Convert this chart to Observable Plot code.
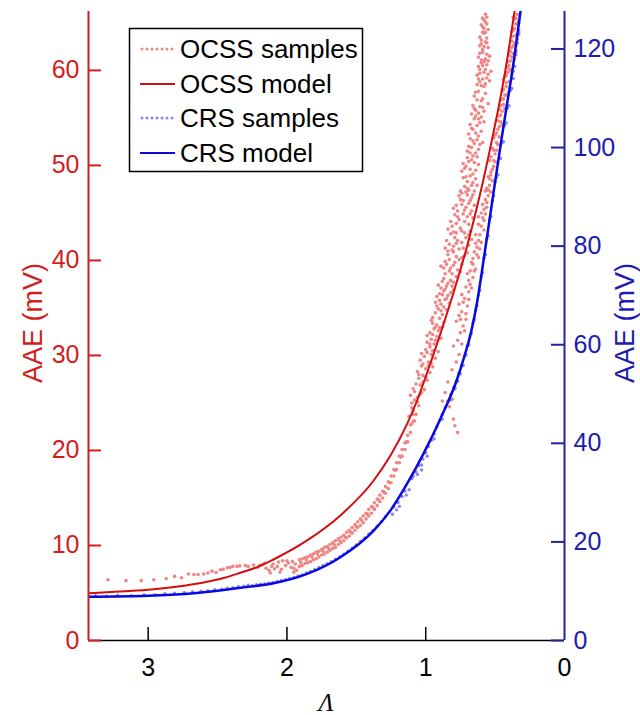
<!DOCTYPE html>
<html>
<head>
<meta charset="utf-8">
<script src="https://cdn.jsdelivr.net/npm/d3@7"></script>
<script src="https://cdn.jsdelivr.net/npm/@observablehq/plot@0.6"></script>
<style>
  body { margin: 0; background: #fff; }
  #chart { width: 640px; height: 715px; }
</style>
</head>
<body>
<div id="chart"></div>
<script>
// OCSS samples: [Λ, AAE (mV)] on the left axis
const ocssSamples = [
  // sparse tail at large Λ
  [3.29,6.4],[3.16,6.3],[3.05,6.3],[2.96,6.4],[2.87,6.5],[2.81,6.75],[2.76,6.6],[2.71,7.0],[2.67,6.95],[2.64,6.95],
  [2.60,7.0],[2.57,7.1],[2.54,7.3],[2.51,7.15],[2.48,7.45],[2.46,7.5],[2.43,7.65],[2.41,7.7],[2.39,7.8],[2.36,7.8],
  [2.34,7.85],[2.30,7.9],[2.28,7.8],[2.24,7.95],
  // clump near Λ = 2
  [2.21,7.7],[2.20,7.9],[2.18,8.0],[2.16,8.15],[2.15,7.6],[2.13,7.4],[2.12,7.1],[2.11,7.8],[2.10,8.05],[2.09,7.55],
  [2.07,7.8],[2.06,8.25],[2.05,7.2],[2.04,7.5],[2.03,8.4],[2.01,7.9],[2.00,8.4],[1.99,8.15],[1.97,7.7],[1.96,8.3],
  [1.95,7.6],[1.94,8.05],[1.93,7.4],[1.95,7.2],
  // narrow band below the model
  [1.91,7.8],[1.91,8.5],[1.89,8.6],[1.89,7.9],[1.87,8.7],[1.87,8.1],[1.85,8.8],[1.85,8.2],[1.83,8.3],[1.83,9.0],
  [1.81,8.5],[1.81,9.1],[1.79,9.3],[1.79,8.6],[1.77,9.4],[1.77,8.8],[1.75,9.6],[1.75,9.0],[1.73,9.1],[1.73,9.8],
  [1.71,9.9],[1.71,9.3],[1.69,9.5],[1.69,10.1],[1.67,10.3],[1.67,9.7],[1.65,10.5],[1.65,9.8],[1.63,10.1],[1.63,10.7],
  [1.61,10.9],[1.61,10.3],[1.59,11.1],[1.59,10.5],[1.57,10.8],[1.57,11.4],[1.55,11.6],[1.55,11.0],[1.53,11.3],[1.53,11.9],
  [1.51,12.2],[1.51,11.6],[1.49,11.9],[1.49,12.5],[1.47,12.8],[1.47,12.1],[1.45,13.1],[1.45,12.4],[1.43,12.8],[1.43,13.4],
  [1.41,13.8],[1.41,13.1],[1.39,14.1],[1.39,13.4],[1.37,13.8],[1.37,14.5],[1.35,14.9],[1.35,14.2],[1.33,14.6],[1.33,15.3],
  [1.31,15.7],[1.31,15.0],[1.29,15.5],[1.29,16.2],[1.27,16.7],[1.27,16.0],[1.25,16.6],[1.25,17.3],[1.23,18.0],[1.23,17.3],
  [1.21,18.7],[1.21,18.0],[1.19,19.4],[1.19,18.7],[1.17,19.4],[1.17,20.1],[1.15,20.8],[1.15,20.1],[1.13,20.9],[1.13,21.6],
  [1.11,22.7],[1.11,21.9],[1.09,23.1],[1.09,23.8],
  [1.90,8.2],[1.86,8.5],[1.82,8.8],[1.78,9.1],[1.74,9.4],[1.70,9.7],[1.66,10.1],[1.62,10.5],[1.58,10.9],[1.54,11.4],
  [1.50,12.0],[1.46,12.6],[1.42,13.3],[1.38,14.0],[1.34,14.8],[1.30,15.6],[1.26,16.6],[1.22,17.9],[1.18,19.3],[1.14,20.9],[1.10,22.8],
  // main cloud around and above the model
  [1.12,23.6],[1.09,24.2],[1.07,23.8],[1.10,25.0],[1.05,24.7],[1.08,25.3],
  [1.11,25.8],[1.06,25.6],[1.03,26.1],[1.09,26.5],[1.04,26.9],[1.01,26.4],[1.07,27.0],
  [1.05,27.6],[1.02,27.9],[0.99,27.4],[1.06,28.3],[1.00,28.6],[0.97,28.2],[1.03,28.9],[0.95,28.8],
  [1.04,29.5],[1.01,29.9],[0.98,29.3],[0.96,30.1],[0.93,29.7],[1.00,30.6],[0.97,30.9],[0.91,30.4],
  [0.99,31.4],[0.96,31.7],[0.94,31.2],[0.92,32.0],[0.97,32.4],[0.89,31.8],[0.94,32.8],[0.91,32.6],
  [0.95,33.4],[0.92,33.2],[0.90,33.9],[0.87,33.5],[0.93,34.5],[0.88,34.3],[0.85,34.8],[0.91,34.9],
  [0.93,35.6],[0.89,35.4],[0.86,35.9],[0.83,35.5],[0.90,36.5],[0.87,36.8],[0.84,36.3],[0.80,36.9],
  [0.91,37.4],[0.88,37.8],[0.85,37.3],[0.82,37.9],[0.78,38.3],[0.86,38.6],[0.83,38.9],[0.75,38.8],
  [0.89,39.4],[0.85,39.6],[0.82,39.2],[0.79,39.8],[0.76,40.1],[0.72,40.5],[0.84,40.6],[0.80,40.9],[0.70,40.8],
  [0.86,41.3],[0.83,41.7],[0.80,41.5],[0.77,42.1],[0.74,41.9],[0.71,42.4],[0.67,42.2],[0.82,42.8],[0.78,42.9],[0.64,42.7],
  [0.84,43.3],[0.81,43.6],[0.78,43.9],[0.75,43.4],[0.72,44.1],[0.69,43.8],[0.66,44.5],[0.79,44.8],[0.73,44.9],
  [0.80,45.5],[0.77,45.2],[0.74,45.9],[0.71,45.6],[0.68,46.3],[0.65,45.8],[0.76,46.8],[0.70,46.9],
  [0.75,47.3],[0.72,47.8],[0.69,47.4],[0.66,48.2],[0.63,47.9],[0.73,48.7],[0.68,48.9],
  [0.74,49.4],[0.71,49.9],[0.68,49.6],[0.65,50.3],[0.62,50.1],[0.70,50.8],[0.66,51.0],
  [0.70,51.5],[0.67,51.9],[0.64,51.3],[0.61,52.2],[0.68,52.8],[0.63,52.7],[0.59,52.4],
  [0.69,53.3],[0.66,53.8],[0.63,54.2],[0.60,53.6],[0.58,54.6],[0.65,54.9],
  [0.67,55.4],[0.64,55.8],[0.61,56.2],[0.58,55.7],[0.55,56.5],[0.63,56.9],
  [0.65,57.3],[0.62,57.8],[0.60,58.4],[0.57,57.6],[0.54,58.9],[0.59,59.1],
  [0.63,59.5],[0.61,60.1],[0.58,59.8],[0.56,60.6],[0.53,59.9],[0.60,60.8],
  [0.62,61.4],[0.59,61.9],[0.57,61.2],[0.55,62.4],[0.60,62.8],[0.56,62.9],
  [0.61,63.5],[0.58,63.9],[0.56,63.4],[0.59,64.6],[0.57,65.1],[0.57,65.9],[0.55,64.3],
  [1.10,24.5],[1.06,25.1],[1.08,26.2],[1.02,27.2],[1.05,28.0],[0.98,28.9],[1.02,29.1],[0.99,30.3],[0.95,30.5],[0.97,31.2],
  [0.93,31.6],[0.95,32.2],[0.90,32.9],[0.96,33.7],[0.89,34.7],[0.92,35.2],[0.87,35.1],[0.85,36.0],[0.88,36.4],[0.82,36.6],
  [0.89,37.1],[0.84,37.6],[0.80,37.7],[0.87,38.1],[0.77,39.0],[0.81,38.6],[0.86,39.9],[0.83,40.1],[0.78,40.4],[0.74,40.3],
  [0.81,41.1],[0.76,41.2],[0.69,41.6],[0.85,42.1],[0.79,42.4],[0.72,42.9],[0.68,43.1],[0.82,44.1],[0.76,44.3],[0.70,44.6],
  [0.67,45.2],[0.78,45.8],[0.73,46.3],[0.66,46.9],[0.74,47.1],[0.70,47.6],[0.67,47.9],[0.64,48.6],[0.71,48.8],[0.72,49.7],
  [0.69,50.4],[0.63,50.9],[0.67,50.6],[0.65,52.3],[0.69,52.0],[0.62,53.1],[0.67,53.9],[0.61,54.5],[0.64,55.2],[0.66,56.3],
  [0.60,56.8],[0.62,55.5],[0.64,57.7],[0.58,58.3],[0.61,58.8],[0.56,59.2],[0.62,60.4],[0.59,60.5],[0.55,61.0],[0.61,61.8],
  [0.58,62.5],[0.60,63.2],[0.57,63.0],[0.59,64.0],[0.58,65.3],[0.56,64.9],[0.60,64.8],
  [0.59,57.0],[0.61,59.7],[0.57,60.1],[0.60,61.1],[0.56,61.7],[0.58,61.0],[0.59,62.2],[0.61,62.6],[0.57,64.0],[0.58,64.4],
  [0.56,65.6],[0.59,65.5],
  [1.08,23.1],[1.04,25.9],[1.00,27.7],[1.03,30.2],[0.96,29.2],[0.99,32.1],[0.93,33.0],[0.88,33.0],[0.95,34.0],[0.90,35.8],
  [0.86,37.0],[0.92,36.2],[0.81,37.3],[0.87,39.2],[0.80,39.5],[0.74,39.6],[0.84,41.0],[0.78,41.8],[0.73,41.3],[0.69,42.7],
  [0.80,43.0],[0.74,43.1],[0.77,44.6],[0.68,44.9],[0.72,45.3],[0.75,46.4],[0.69,46.0],[0.67,46.6],[0.71,47.2],[0.65,47.3],
  [0.70,48.3],[0.66,49.1],[0.73,50.2],[0.64,49.5],[0.68,51.3],[0.62,51.7],[0.66,52.6],[0.64,53.4],[0.68,54.3],[0.62,54.9],
  [0.60,55.1],[0.65,56.0],[0.59,56.1],[0.63,58.5],[0.57,58.6],[0.55,59.6],[0.62,59.1],[0.54,61.5],[0.58,60.9],
  // outlying group between the two models
  [0.79,22.6],[0.77,21.9],[0.80,23.3],[0.83,24.6],[0.81,25.4],[0.86,26.1],[0.84,27.2],[0.79,26.6],[0.88,25.2],
  [0.81,28.5],[0.78,29.3],[0.76,30.1],[0.80,31.0],[0.77,31.6],
  [0.75,32.4],[0.73,33.1],[0.71,33.8],[0.74,34.6],[0.70,35.2],[0.72,36.0],[0.69,36.7],[0.76,35.4],
  [0.68,37.5],[0.66,38.2],[0.70,38.6],[0.64,39.1],[0.67,39.8],[0.62,40.3],[0.65,40.9],
  [0.63,41.4],[0.60,41.9],[0.61,42.7],[0.58,43.2],[0.62,43.8],[0.59,44.5],[0.57,44.9],
  [0.58,45.4],[0.56,46.1],[0.55,46.8],[0.57,47.3],[0.54,47.9],[0.52,48.4],[0.55,48.8],
  [0.53,49.3],[0.51,49.9],[0.54,50.5],[0.50,51.2],[0.52,51.8],[0.49,52.4],[0.51,52.9],
  [0.49,53.4],[0.47,54.1],[0.48,54.7],[0.46,55.3],[0.47,55.9],[0.44,56.4],[0.46,56.9],
  [0.43,57.4],[0.44,58.0],[0.42,58.7],[0.43,59.3],[0.41,59.8],[0.40,60.5],[0.41,60.9],
  [0.38,61.4],[0.39,62.0],[0.37,62.6],[0.38,63.1],[0.35,63.7],[0.37,64.2],[0.34,64.8],[0.36,65.4],[0.34,65.9],[0.35,61.9],[0.33,64.0],
  [0.74,31.2],[0.72,32.6],[0.75,33.8],[0.71,34.4],[0.73,35.6],[0.69,35.9],[0.67,37.1],[0.69,37.9],[0.65,38.9],[0.66,39.6],
  [0.63,40.6],[0.64,41.8],[0.61,41.2],[0.60,43.6],[0.62,44.6],[0.58,44.2],[0.59,45.9],[0.57,46.4],[0.56,47.6],[0.53,47.2],
  [0.54,48.6],[0.52,49.6],[0.53,50.9],[0.50,50.4],[0.51,51.6],[0.48,52.2],[0.50,53.2],[0.48,53.8],[0.46,54.6],[0.47,55.2],
  [0.45,55.7],[0.46,56.3],[0.44,57.0],[0.45,57.8],[0.42,58.3],[0.44,59.0],[0.42,59.5],[0.40,59.9],[0.41,60.3],[0.39,61.0],
  [0.40,61.6],[0.37,61.8],[0.38,62.4],[0.36,62.9],[0.37,63.6],[0.36,64.4],[0.35,64.9],[0.37,65.6],[0.35,65.5],[0.38,64.1],
  [0.78,33.6],[0.76,34.2],[0.74,36.4],[0.71,37.2],[0.68,38.9],[0.66,40.2],[0.62,42.1],[0.60,45.0],[0.56,45.6],[0.55,47.4],
  [0.53,49.0],[0.51,50.5],[0.49,51.6],[0.47,53.0],[0.45,54.3],[0.43,56.0],[0.42,57.4],[0.40,58.8],[0.39,60.1],[0.36,61.2],
  [0.35,62.6],[0.34,63.3],[0.33,65.2]
];

// OCSS model curve: [Λ, AAE (mV)] on the left axis
const ocssModel = [
  [3.43,4.98],[3.2,5.15],[3.0,5.35],[2.8,5.65],[2.6,6.1],[2.45,6.6],[2.34,7.1],[2.2,7.8],[2.1,8.5],[1.855,10.53],
  [1.615,13.16],[1.375,16.84],[1.254,19.47],[1.134,22.8],[1.062,25.26],[0.98,28.6],[0.894,32.3],[0.8,36.6],[0.7,41.6],
  [0.6,47.5],[0.534,51.9],[0.438,59.0],[0.36,66.2],[0.34,68.2]
];

// CRS samples: [Λ, AAE (mV)] on the right axis
const crsSamples = [
  [3.38,9.1],[3.30,9.0],[3.22,9.2],[3.12,9.1],[3.03,9.3],[2.95,9.3],[2.88,9.5],[2.81,9.6],[2.74,9.7],[2.68,9.9],
  [2.62,10.0],[2.57,10.1],[2.52,10.3],[2.47,10.4],[2.43,10.6],[2.39,10.7],[2.35,10.9],[2.31,11.0],[2.28,11.2],[2.25,11.1],
  [2.22,11.3],[2.19,11.4],[2.16,11.5],[2.13,11.7],[2.10,11.8],[2.07,12.0],[2.04,12.2],[2.01,12.4],[1.98,12.6],[1.95,12.8],
  [1.92,13.1],[1.89,13.3],[1.86,13.7],[1.83,14.0],[1.80,14.4],[1.77,14.8],[1.74,15.2],[1.71,15.6],[1.68,16.0],[1.65,16.5],
  [1.62,17.0],[1.59,17.5],[1.56,18.1],[1.53,18.7],[1.50,19.4],[1.47,20.1],[1.44,20.8],[1.41,21.6],[1.38,22.3],[1.35,23.2],
  [1.32,24.1],[1.29,25.1],[1.26,26.1],[1.23,27.1],[1.21,26.5],[1.20,28.0],[1.17,29.2],[1.15,30.3],[1.12,30.6],[1.10,32.8],
  [1.09,33.3],[1.07,34.2],[1.05,35.5],[1.03,35.6],[1.02,36.8],[1.00,38.1],[0.98,39.4],[0.96,40.6],[0.94,41.9],[0.92,43.3],
  [0.90,44.6],[0.88,45.9],[0.86,47.2],[0.84,48.6],[0.82,49.9],[0.80,51.3],[0.78,52.6],[0.76,54.2],[0.74,55.9],[0.72,57.8],
  [0.70,59.8],[0.68,61.8],[0.66,64.4],[0.64,67.1],[0.62,70.1],[0.60,73.8],[0.58,77.6],[0.56,81.5],[0.54,85.4],[0.52,89.2],
  [0.50,93.0],[0.48,96.9],[0.46,100.6],[0.44,104.2],[0.42,107.8],[0.40,111.3],[0.38,114.8],[0.36,118.9],[0.34,123.0],[0.33,125.2],
  [1.24,25.6],[1.19,27.2],[1.14,29.5],[1.06,33.7],[1.03,34.6],[0.99,37.4],[0.94,40.9],[0.88,44.9],[0.82,48.8],[0.79,51.2],
  [0.36,116.5],[0.35,118.8],[0.34,121.2],[0.33,123.0],[0.37,114.0],[0.38,112.0],[0.40,108.5],[0.42,105.0],[0.44,101.2],[0.46,97.8],[0.48,94.5],
  [0.79,51.0],[0.77,52.6],[0.75,54.1],[0.73,55.8],[0.71,57.9],[0.69,60.0],[0.67,62.4],[0.65,65.1],[0.63,67.9],[0.61,71.0],
  [0.59,74.6],[0.57,78.3],[0.55,82.1],[0.53,86.0],[0.51,90.2],[0.49,94.0],[0.47,97.8],[0.45,101.0],[0.43,104.6],[0.41,108.0],
  [0.39,111.6],[0.37,115.5],[0.35,119.7],[0.33,123.8]
];

// CRS model curve: [Λ, AAE (mV)] on the right axis
const crsModel = [
  [3.43,8.9],[3.0,9.1],[2.71,9.5],[2.336,10.7],[2.096,11.6],[1.855,13.5],[1.615,16.9],[1.375,22.3],[1.254,26.4],
  [1.134,31.8],[1.014,38.0],[0.894,45.0],[0.774,53.0],[0.72,57.8],[0.678,62.0],[0.63,68.6],[0.577,78.3],[0.52,89.2],
  [0.461,100.4],[0.42,107.8],[0.377,115.3],[0.317,127.6],[0.30,131.0]
];

const leftTicks = [0, 10, 20, 30, 40, 50, 60];
const rightTicks = [0, 20, 40, 60, 80, 100, 120];
const lambdaTicks = [3, 2, 1, 0];
const legendItems = ["OCSS samples", "OCSS model", "CRS samples", "CRS model"];

const lambdaMax = 3.43;
const leftMax = 66.2;
const rightMax = 127.6;
const k = leftMax / rightMax; // converts right-axis millivolts to left-axis units

const W = 640, H = 715;
const M = {top: 11, right: 76, bottom: 75, left: 88};
const frameW = W - M.left - M.right;
const frameH = H - M.top - M.bottom;
const TICK = 13; // inward tick length in px

const RED_AXIS = "#d21e1e";
const RED_LINE = "#d40d0d";
const PINK = "#f08585";
const BLUE_AXIS = "#23239c";
const BLUE_TEXT = "#1c1cb0";
const BLUE_LINE = "#0808e0";
const LAVENDER = "#8787ee";
const FONT = "'Liberation Sans', Arial, Helvetica, sans-serif";

const svg = Plot.plot({
  width: W,
  height: H,
  marginTop: M.top,
  marginBottom: M.bottom,
  marginLeft: M.left,
  marginRight: M.right,
  style: {fontFamily: FONT, fontSize: "25px", background: "white", overflow: "visible"},
  x: {domain: [lambdaMax, 0]},
  y: {domain: [0, leftMax]},
  marks: [
    Plot.ruleY([0], {stroke: "black", strokeWidth: 1.5}),
    // inward ticks along the bottom
    Plot.ruleX(lambdaTicks.filter(d => d > 0), {stroke: "black", strokeWidth: 1.5, insetTop: frameH - TICK}),
    Plot.axisX(lambdaTicks, {tickSize: 0, tickPadding: 18, color: "black", fontSize: 25, label: null,
      tickFormat: d => String(d)}),
    Plot.dot(ocssSamples, {x: d => d[0], y: d => d[1], r: 1.8, fill: PINK, stroke: null}),
    Plot.dot(crsSamples, {x: d => d[0], y: d => d[1] * k, r: 1.7, fill: LAVENDER, stroke: null}),
    Plot.line(ocssModel, {x: d => d[0], y: d => d[1], stroke: RED_LINE, strokeWidth: 2, curve: "monotone-x", clip: true}),
    Plot.line(crsModel, {x: d => d[0], y: d => d[1] * k, stroke: BLUE_LINE, strokeWidth: 2.5, curve: "monotone-x", clip: true}),
    // axis lines and inward ticks on both sides
    Plot.ruleX([lambdaMax], {stroke: RED_AXIS, strokeWidth: 2}),
    Plot.ruleX([0], {stroke: BLUE_AXIS, strokeWidth: 2}),
    Plot.ruleY(leftTicks, {stroke: RED_AXIS, strokeWidth: 2, insetRight: frameW - TICK}),
    Plot.ruleY(rightTicks.map(d => d * k), {stroke: BLUE_AXIS, strokeWidth: 2, insetLeft: frameW - TICK}),
    Plot.axisY(leftTicks, {anchor: "left", tickSize: 0, tickPadding: 9, color: RED_AXIS, fontSize: 25, label: null}),
    Plot.axisY(rightTicks.map(d => d * k), {anchor: "right", tickSize: 0, tickPadding: 9, color: BLUE_TEXT, fontSize: 25, label: null,
      tickFormat: d => String(Math.round(d / k))})
  ]
});

document.getElementById("chart").appendChild(svg);

const root = d3.select(svg);

// Axis titles
root.append("text")
  .attr("transform", "translate(33,323) rotate(-90)")
  .attr("text-anchor", "middle").attr("dominant-baseline", "central")
  .attr("fill", RED_AXIS).attr("font-family", FONT).attr("font-size", 27)
  .text("AAE (mV)");
root.append("text")
  .attr("transform", "translate(625,323) rotate(-90)")
  .attr("text-anchor", "middle").attr("dominant-baseline", "central")
  .attr("fill", BLUE_TEXT).attr("font-family", FONT).attr("font-size", 27)
  .text("AAE (mV)");
root.append("text")
  .attr("x", 326).attr("y", 711)
  .attr("text-anchor", "middle")
  .attr("font-family", "'Liberation Serif', 'Times New Roman', serif")
  .attr("font-style", "italic").attr("font-size", 25).attr("fill", "black")
  .text("Λ");

// Legend box
const legend = root.append("g");
legend.append("rect")
  .attr("x", 129.5).attr("y", 28.5).attr("width", 233).attr("height", 143)
  .attr("fill", "white").attr("stroke", "black").attr("stroke-width", 1.5);
const rowY = [49, 84, 118, 153];
const legendStyle = [
  {type: "dots", color: PINK},
  {type: "line", color: RED_LINE, width: 2},
  {type: "dots", color: LAVENDER},
  {type: "line", color: BLUE_LINE, width: 2}
];
legendItems.forEach((label, i) => {
  const s = legendStyle[i];
  const y = rowY[i];
  if (s.type === "dots") {
    d3.range(142, 174, 5).forEach(cx => {
      legend.append("circle").attr("cx", cx).attr("cy", y).attr("r", 1.5).attr("fill", s.color);
    });
  } else {
    legend.append("line").attr("x1", 140).attr("x2", 175).attr("y1", y).attr("y2", y)
      .attr("stroke", s.color).attr("stroke-width", s.width);
  }
  legend.append("text")
    .attr("x", 180).attr("y", y)
    .attr("text-anchor", "start")
    .attr("dominant-baseline", "central")
    .attr("font-family", FONT).attr("font-size", 26).attr("fill", "black")
    .text(label);
});
</script>
</body>
</html>
